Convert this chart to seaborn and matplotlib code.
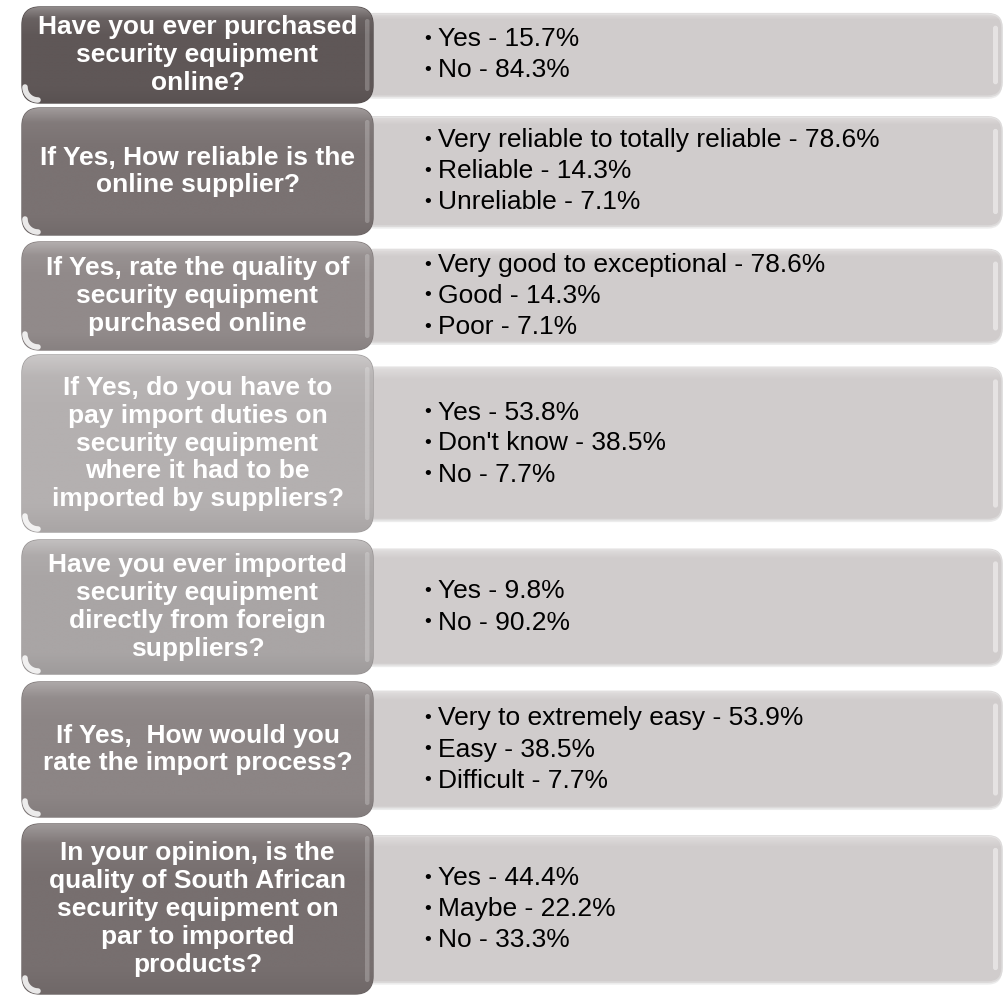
import numpy as np
import matplotlib
matplotlib.use("Agg")
import matplotlib.pyplot as plt
import matplotlib.colors as mcolors
from matplotlib.patches import FancyBboxPatch
import seaborn as sns

# ---------------- data ----------------
questions = [
    "Have you ever purchased\nsecurity equipment\nonline?",
    "If Yes, How reliable is the\nonline supplier?",
    "If Yes, rate the quality of\nsecurity equipment\npurchased online",
    "If Yes, do you have to\npay import duties on\nsecurity equipment\nwhere it had to be\nimported by suppliers?",
    "Have you ever imported\nsecurity equipment\ndirectly from foreign\nsuppliers?",
    "If Yes,  How would you\nrate the import process?",
    "In your opinion, is the\nquality of South African\nsecurity equipment on\npar to imported\nproducts?",
]
answer_labels = [
    ["Yes", "No"],
    ["Very reliable to totally reliable", "Reliable", "Unreliable"],
    ["Very good to exceptional", "Good", "Poor"],
    ["Yes", "Don't know", "No"],
    ["Yes", "No"],
    ["Very to extremely easy", "Easy", "Difficult"],
    ["Yes", "Maybe", "No"],
]
answer_values = [
    [15.7, 84.3],
    [78.6, 14.3, 7.1],
    [78.6, 14.3, 7.1],
    [53.8, 38.5, 7.7],
    [9.8, 90.2],
    [53.9, 38.5, 7.7],
    [44.4, 22.2, 33.3],
]

# ---------------- layout / style ----------------
W, H = 1007, 997
row_top = [7, 108, 242, 355, 540, 682, 824]
row_h = [96, 127, 108, 177, 134, 135, 170]
left_x0, left_x1 = 22, 373
right_x0, right_x1 = 360, 1002
left_colors = ["#5f5757", "#7a7272", "#918a8a", "#b4b0b0", "#a9a5a5", "#8c8585", "#776f6f"]
right_color = "#d0cccc"

sns.set_theme(style="white")
plt.rcParams["font.family"] = ["Liberation Sans", "DejaVu Sans"]

fig = plt.figure(figsize=(W / 100, H / 100), dpi=100)
ax = fig.add_axes([0, 0, 1, 1])
ax.set_xlim(0, W)
ax.set_ylim(0, H)
ax.axis("off")


def lighten(c, f):
    r = np.array(mcolors.to_rgb(c))
    return tuple(r + (1 - r) * f)


def darken(c, f):
    r = np.array(mcolors.to_rgb(c))
    return tuple(r * (1 - f))


sans = ["Liberation Sans", "DejaVu Sans"]

for i, q in enumerate(questions):
    top = row_top[i]
    h = row_h[i]
    yb = H - (top + h)

    # ---- right (answer) box ----
    inset = 0.07 * h
    rh = h - 2 * inset
    ryb = yb + inset
    shadow = FancyBboxPatch((right_x0, ryb - 2.5), right_x1 - right_x0, rh,
                            boxstyle="round,pad=0,rounding_size=14",
                            fc="#ececec", ec="none", zorder=1)
    ax.add_patch(shadow)
    rbox = FancyBboxPatch((right_x0, ryb), right_x1 - right_x0, rh,
                          boxstyle="round,pad=0,rounding_size=14",
                          fc=right_color, ec="#dcdada", lw=1.2, zorder=2)
    ax.add_patch(rbox)
    # top soft highlight
    g = np.linspace(0, 1, 300).reshape(-1, 1)
    alpha_top = np.clip(1 - g / 0.08, 0, 1) * 0.35
    rgba = np.ones((300, 1, 4))
    rgba[..., 3] = alpha_top
    imt = ax.imshow(rgba, extent=(right_x0, right_x1, ryb, ryb + rh),
                    aspect="auto", origin="upper", zorder=2.05,
                    interpolation="bilinear")
    imt.set_clip_path(rbox)
    # right edge sheen
    rs = FancyBboxPatch((right_x1 - 9, ryb + 12), 5, rh - 24,
                        boxstyle="round,pad=0,rounding_size=2.5",
                        fc="white", ec="none", alpha=0.45, zorder=2.1)
    ax.add_patch(rs)

    # answers
    labels = answer_labels[i]
    vals = answer_values[i]
    n = len(labels)
    cy = ryb + rh / 2
    gap = 31
    for j, (lab, v) in enumerate(zip(labels, vals)):
        y = cy + (n - 1) / 2 * gap - j * gap
        ax.text(428, y, "\u2022", ha="center", va="center", fontsize=14,
                color="black", zorder=5, family=sans)
        ax.text(438, y, f"{lab} - {v}%", ha="left", va="center", fontsize=19,
                color="black", zorder=5, family=sans)

    # ---- left (question) box ----
    base = left_colors[i]
    lbox = FancyBboxPatch((left_x0, yb), left_x1 - left_x0, h,
                          boxstyle="round,pad=0,rounding_size=18",
                          fc=base, ec=darken(base, 0.12), lw=1.0, zorder=3)
    ax.add_patch(lbox)
    # vertical gloss gradient
    g = np.linspace(0, 1, 300).reshape(-1, 1)
    cm = mcolors.LinearSegmentedColormap.from_list(
        "l", [(0.0, lighten(base, 0.30)), (0.12, lighten(base, 0.06)),
              (0.3, base), (0.85, base), (1.0, darken(base, 0.06))])
    im2 = ax.imshow(g, cmap=cm, extent=(left_x0, left_x1, yb, yb + h),
                    aspect="auto", origin="upper", zorder=3.1, vmin=0, vmax=1,
                    interpolation="bilinear")
    im2.set_clip_path(lbox)
    # right-edge sheen
    edge = FancyBboxPatch((left_x1 - 8, yb + 12), 4.5, h - 24,
                          boxstyle="round,pad=0,rounding_size=2.2",
                          fc="white", ec="none", alpha=0.22, zorder=3.2)
    ax.add_patch(edge)
    # bottom-left corner reflection
    t = np.linspace(np.pi, 1.5 * np.pi, 30)
    r = 13
    ax.plot(left_x0 + 16 + r * np.cos(t), yb + 16 + r * np.sin(t),
            color="white", lw=4, alpha=0.85, solid_capstyle="round", zorder=3.3)

    ax.text((left_x0 + left_x1) / 2, yb + h / 2, q, ha="center", va="center",
            fontsize=19, fontweight="bold", color="white", linespacing=1.2,
            zorder=6, family=sans)

fig.savefig("out.png", dpi=100, facecolor="white")
